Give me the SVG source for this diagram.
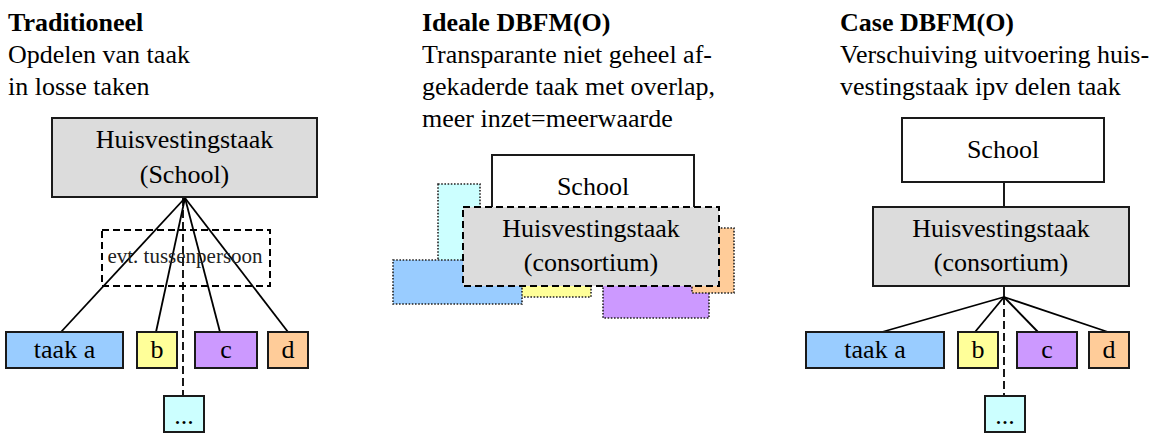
<svg xmlns="http://www.w3.org/2000/svg" width="1157" height="433" viewBox="0 0 1157 433" font-family="'Liberation Serif', 'Times New Roman', serif">
  <style>
    text { font-family: "Liberation Serif", "Times New Roman", serif; font-size: 26px; font-weight: normal; fill: #000; }
    text.title { font-weight: bold; }
    .mid { text-anchor: middle; }
    text.small { font-size: 21px; fill: #222; }
    .box { stroke: #1a1a1a; stroke-width: 2; }
    .dashed { fill: none; stroke: #000; stroke-width: 2; stroke-dasharray: 7 4; }
    .dotted { stroke: #222; stroke-width: 1.6; stroke-dasharray: 1.6 1.6; }
    .gray { fill: #dcdcdc; }
    .white { fill: #fff; }
    .blue { fill: #99ccff; }
    .yellow { fill: #ffff99; }
    .purple { fill: #cc99ff; }
    .orange { fill: #ffcc99; }
    .cyan { fill: #ccffff; }
    .link { stroke: #000; stroke-width: 1.8; fill: none; }
    .link-dash { stroke: #000; stroke-width: 1.8; fill: none; stroke-dasharray: 8 4; }
  </style>

  <!-- Column headings -->
  <g id="heading-traditioneel">
    <text x="8" y="31" class="title">Traditioneel</text>
    <text x="8" y="63">Opdelen van taak</text>
    <text x="8" y="95">in losse taken</text>
  </g>
  <g id="heading-ideaal">
    <text x="422" y="31" class="title">Ideale DBFM(O)</text>
    <text x="422" y="63">Transparante niet geheel af-</text>
    <text x="422" y="95">gekaderde taak met overlap,</text>
    <text x="422" y="127">meer inzet=meerwaarde</text>
  </g>
  <g id="heading-case">
    <text x="840" y="31" class="title">Case DBFM(O)</text>
    <text x="840" y="63">Verschuiving uitvoering huis-</text>
    <text x="840" y="95">vestingstaak ipv delen taak</text>
  </g>

  <!-- Connectors -->
  <g id="connectors">
    <!-- traditional: one task fans out to separate contractors -->
    <line class="link" x1="185" y1="198" x2="61" y2="332"/>
    <line class="link" x1="185" y1="198" x2="156" y2="332"/>
    <line class="link" x1="185" y1="198" x2="220" y2="332"/>
    <line class="link" x1="185" y1="198" x2="288" y2="332"/>
    <line class="link-dash" x1="183" y1="198" x2="183" y2="396"/>
    <!-- case: school over consortium, consortium over tasks -->
    <line class="link" x1="1004" y1="182" x2="1004" y2="207"/>
    <line class="link" x1="1004" y1="286" x2="1004" y2="297"/>
    <line class="link" x1="1004" y1="297" x2="882" y2="332"/>
    <line class="link" x1="1004" y1="297" x2="975" y2="332"/>
    <line class="link" x1="1004" y1="297" x2="1038" y2="332"/>
    <line class="link" x1="1004" y1="297" x2="1108" y2="332"/>
    <line class="link-dash" x1="1004" y1="297" x2="1004" y2="396"/>
  </g>

  <!-- Traditional column -->
  <g id="trad-huisvesting">
    <rect class="box gray" x="52" y="118" width="265" height="79"/>
    <text x="184.5" y="148" class="mid">Huisvestingstaak</text>
    <text x="184.5" y="183" class="mid">(School)</text>
  </g>
  <g id="trad-tussenpersoon">
    <rect class="dashed" x="102" y="230" width="168" height="56"/>
    <text x="185" y="263" class="mid small">evt. tussenpersoon</text>
  </g>
  <g id="trad-taak-a">
    <rect class="box blue" x="6" y="332" width="117" height="36"/>
    <text x="64.5" y="358" class="mid">taak a</text>
  </g>
  <g id="trad-b">
    <rect class="box yellow" x="137" y="332" width="40" height="36"/>
    <text x="157" y="358" class="mid">b</text>
  </g>
  <g id="trad-c">
    <rect class="box purple" x="195" y="332" width="62" height="36"/>
    <text x="226" y="358" class="mid">c</text>
  </g>
  <g id="trad-d">
    <rect class="box orange" x="268" y="332" width="40" height="36"/>
    <text x="288" y="358" class="mid">d</text>
  </g>
  <g id="trad-more">
    <rect class="box cyan" x="164" y="396" width="40" height="36"/>
    <text x="184" y="424" class="mid">...</text>
  </g>

  <!-- Ideal column: overlapping, loosely bounded tasks -->
  <g id="ideal-cyan"><rect class="dotted cyan" x="438" y="184" width="42" height="90"/></g>
  <g id="ideal-yellow"><rect class="dotted yellow" x="505" y="250" width="86" height="47"/></g>
  <g id="ideal-blue"><rect class="dotted blue" x="393" y="260" width="129" height="44"/></g>
  <g id="ideal-purple"><rect class="dotted purple" x="603" y="255" width="106" height="63"/></g>
  <g id="ideal-orange"><rect class="dotted orange" x="692" y="228" width="42" height="65"/></g>
  <g id="ideal-school">
    <rect class="box white" x="492" y="155" width="202" height="64"/>
    <text x="593" y="195" class="mid">School</text>
  </g>
  <g id="ideal-huisvesting">
    <rect class="gray" x="463" y="207" width="256" height="79"/>
    <rect class="dashed" x="463" y="207" width="256" height="79"/>
    <text x="591" y="237" class="mid">Huisvestingstaak</text>
    <text x="591" y="271" class="mid">(consortium)</text>
  </g>

  <!-- Case column -->
  <g id="case-school">
    <rect class="box white" x="902" y="118" width="202" height="64"/>
    <text x="1003" y="158" class="mid">School</text>
  </g>
  <g id="case-huisvesting">
    <rect class="box gray" x="873" y="207" width="256" height="79"/>
    <text x="1001" y="237" class="mid">Huisvestingstaak</text>
    <text x="1001" y="271" class="mid">(consortium)</text>
  </g>
  <g id="case-taak-a">
    <rect class="box blue" x="806" y="332" width="138" height="36"/>
    <text x="875" y="358" class="mid">taak a</text>
  </g>
  <g id="case-b">
    <rect class="box yellow" x="958" y="332" width="40" height="36"/>
    <text x="978" y="358" class="mid">b</text>
  </g>
  <g id="case-c">
    <rect class="box purple" x="1017" y="332" width="60" height="36"/>
    <text x="1047" y="358" class="mid">c</text>
  </g>
  <g id="case-d">
    <rect class="box orange" x="1089" y="332" width="40" height="36"/>
    <text x="1109" y="358" class="mid">d</text>
  </g>
  <g id="case-more">
    <rect class="box cyan" x="985" y="396" width="40" height="36"/>
    <text x="1005" y="424" class="mid">...</text>
  </g>
</svg>
